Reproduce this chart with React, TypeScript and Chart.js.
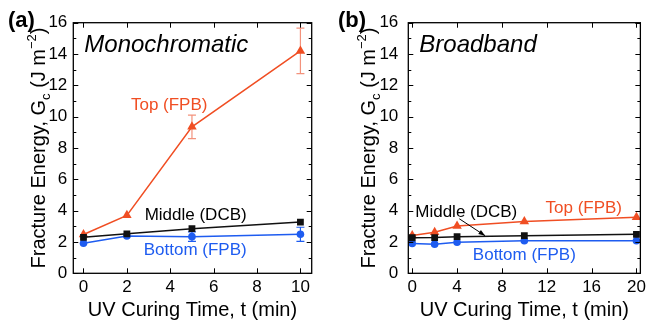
import React, { useEffect, useRef } from "react";
import { Chart, registerables } from "chart.js";
Chart.register(...registerables);

// ---------- data ----------
const timesA = [0, 2, 5, 10];
const topA = [2.48, 3.7, 9.35, 14.2];
const topErrA = [0, 0, 0.75, 1.45];
const middleA = [2.3, 2.52, 2.85, 3.27];
const bottomA = [1.92, 2.38, 2.34, 2.49];
const bottomErrA = [0, 0, 0.3, 0.45];

const timesB = [0, 2, 4, 10, 20];
const topB = [2.42, 2.62, 3.02, 3.3, 3.58];
const middleB = [2.27, 2.28, 2.34, 2.4, 2.49];
const bottomB = [1.91, 1.86, 1.98, 2.08, 2.08];

const yTicks = [0, 2, 4, 6, 8, 10, 12, 14, 16];
const yMinorTicks = [1, 3, 5, 7, 9, 11, 13, 15];
const xTicksA = [0, 2, 4, 6, 8, 10];
const xTicksB = [0, 4, 8, 12, 16, 20];

const labelsA = [
  { text: "Top (FPB)", x: 3.95, y: 10.75, color: "#f04e23" },
  { text: "Middle (DCB)", x: 5.17, y: 3.72, color: "#000000" },
  { text: "Bottom (FPB)", x: 5.15, y: 1.49, color: "#1e5cf0" },
];
const labelsB = [
  { text: "Middle (DCB)", x: 4.82, y: 3.91, color: "#000000" },
  { text: "Top (FPB)", x: 15.3, y: 4.17, color: "#f04e23" },
  { text: "Bottom (FPB)", x: 10.0, y: 1.17, color: "#1e5cf0" },
];
const arrowB = { x1: 4.2, y1: 3.48, x2: 6.5, y2: 2.4 };

const RED = "#f04e23";
const RED_ERR = "#f3927c";
const BLUE = "#1e5cf0";
const BLACK = "#111111";
const FONT = "'Liberation Sans', Arial, Helvetica, sans-serif";

function drawYTitle(ctx: CanvasRenderingContext2D, x: number, yc: number) {
  const big = `20px ${FONT}`;
  const small = `13px ${FONT}`;
  const segs = [
    { t: "Fracture Energy, G", f: big, dy: 0 },
    { t: "c", f: small, dy: 5 },
    { t: " (J m", f: big, dy: 0 },
    { t: "\u22122", f: small, dy: -9 },
    { t: ")", f: big, dy: 0 },
  ];
  ctx.save();
  let total = 0;
  for (const s of segs) {
    ctx.font = s.f;
    total += ctx.measureText(s.t).width;
  }
  ctx.translate(x, yc);
  ctx.rotate(-Math.PI / 2);
  ctx.fillStyle = "#000";
  ctx.textBaseline = "alphabetic";
  ctx.textAlign = "left";
  let cx = -total / 2;
  for (const s of segs) {
    ctx.font = s.f;
    ctx.fillText(s.t, cx, s.dy);
    cx += ctx.measureText(s.t).width;
  }
  ctx.restore();
}

function makeConfig(opts: {
  times: number[];
  top: number[];
  middle: number[];
  bottom: number[];
  topErr: number[] | null;
  bottomErr: number[] | null;
  xMin: number;
  xMax: number;
  xTicks: number[];
  yAxisWidth: number;
  tickPad: number;
  padRight: number;
  panel: string;
  title: string;
  labels: { text: string; x: number; y: number; color: string }[];
  arrow: { x1: number; y1: number; x2: number; y2: number } | null;
}) {
  const toPts = (arr: number[]) => opts.times.map((t, i) => ({ x: t, y: arr[i] }));
  const decor = {
    id: "decor",
    beforeDatasetsDraw(chart: any) {
      const ctx = chart.ctx;
      const xs = chart.scales.x;
      const ys = chart.scales.y;
      const drawErr = (arr: number[], err: number[] | null, color: string) => {
        if (!err) return;
        ctx.save();
        ctx.strokeStyle = color;
        ctx.lineWidth = 1.2;
        opts.times.forEach((t, i) => {
          if (!err[i]) return;
          const px = xs.getPixelForValue(t);
          const y1 = ys.getPixelForValue(arr[i] + err[i]);
          const y2 = ys.getPixelForValue(arr[i] - err[i]);
          ctx.beginPath();
          ctx.moveTo(px, y1);
          ctx.lineTo(px, y2);
          ctx.moveTo(px - 4, y1);
          ctx.lineTo(px + 4, y1);
          ctx.moveTo(px - 4, y2);
          ctx.lineTo(px + 4, y2);
          ctx.stroke();
        });
        ctx.restore();
      };
      drawErr(opts.top, opts.topErr, RED_ERR);
      drawErr(opts.bottom, opts.bottomErr, BLUE);
    },
    afterDraw(chart: any) {
      const ctx = chart.ctx;
      const a = chart.chartArea;
      const xs = chart.scales.x;
      const ys = chart.scales.y;
      ctx.save();
      // frame
      ctx.strokeStyle = "#000";
      ctx.lineWidth = 1.3;
      ctx.strokeRect(a.left, a.top, a.right - a.left, a.bottom - a.top);
      // inner ticks
      ctx.lineWidth = 1;
      ctx.beginPath();
      for (const v of opts.xTicks) {
        const px = Math.round(xs.getPixelForValue(v)) + 0.5;
        ctx.moveTo(px, a.bottom);
        ctx.lineTo(px, a.bottom - 5);
        ctx.moveTo(px, a.top);
        ctx.lineTo(px, a.top + 5);
      }
      for (const v of yTicks) {
        const py = Math.round(ys.getPixelForValue(v)) + 0.5;
        ctx.moveTo(a.left, py);
        ctx.lineTo(a.left + 5, py);
        ctx.moveTo(a.right, py);
        ctx.lineTo(a.right - 5, py);
      }
      for (const v of yMinorTicks) {
        const py = Math.round(ys.getPixelForValue(v)) + 0.5;
        ctx.moveTo(a.left, py);
        ctx.lineTo(a.left + 3, py);
        ctx.moveTo(a.right, py);
        ctx.lineTo(a.right - 3, py);
      }
      ctx.stroke();

      // panel label
      ctx.fillStyle = "#000";
      ctx.font = `bold 22px ${FONT}`;
      ctx.textAlign = "left";
      ctx.textBaseline = "alphabetic";
      ctx.fillText(opts.panel, 8, 27);

      // italic title
      ctx.font = `italic 24px ${FONT}`;
      ctx.fillText(opts.title, a.left + 11, 52);

      // series labels
      ctx.font = `17px ${FONT}`;
      ctx.textAlign = "center";
      ctx.textBaseline = "middle";
      for (const l of opts.labels) {
        ctx.fillStyle = l.color;
        ctx.fillText(l.text, xs.getPixelForValue(l.x), ys.getPixelForValue(l.y));
      }

      // arrow
      if (opts.arrow) {
        const x1 = xs.getPixelForValue(opts.arrow.x1);
        const y1 = ys.getPixelForValue(opts.arrow.y1);
        const x2 = xs.getPixelForValue(opts.arrow.x2);
        const y2 = ys.getPixelForValue(opts.arrow.y2);
        ctx.strokeStyle = "#000";
        ctx.fillStyle = "#000";
        ctx.lineWidth = 1;
        ctx.beginPath();
        ctx.moveTo(x1, y1);
        ctx.lineTo(x2, y2);
        ctx.stroke();
        const ang = Math.atan2(y2 - y1, x2 - x1);
        const L = 7;
        ctx.beginPath();
        ctx.moveTo(x2, y2);
        ctx.lineTo(x2 - L * Math.cos(ang - 0.35), y2 - L * Math.sin(ang - 0.35));
        ctx.lineTo(x2 - L * Math.cos(ang + 0.35), y2 - L * Math.sin(ang + 0.35));
        ctx.closePath();
        ctx.fill();
      }

      // y title
      drawYTitle(ctx, 45, (a.top + a.bottom) / 2);
      ctx.restore();
    },
  };

  return {
    type: "scatter" as const,
    data: {
      datasets: [
        {
          label: "Middle (DCB)",
          data: toPts(opts.middle),
          showLine: true,
          borderColor: BLACK,
          backgroundColor: BLACK,
          borderWidth: 1.5,
          pointStyle: "rect",
          pointRadius: 4.8,
          pointBorderWidth: 0,
        },
        {
          label: "Bottom (FPB)",
          data: toPts(opts.bottom),
          showLine: true,
          borderColor: BLUE,
          backgroundColor: BLUE,
          borderWidth: 1.5,
          pointStyle: "circle",
          pointRadius: 3.8,
          pointBorderWidth: 0,
        },
        {
          label: "Top (FPB)",
          data: toPts(opts.top),
          showLine: true,
          borderColor: RED,
          backgroundColor: RED,
          borderWidth: 1.5,
          pointStyle: "triangle",
          pointRadius: 5.5,
          pointBorderWidth: 0,
        },
      ],
    },
    options: {
      animation: false as const,
      responsive: false,
      devicePixelRatio: 1,
      layout: { padding: { top: 22.7, right: opts.padRight, left: 0, bottom: 0 } },
      plugins: { legend: { display: false }, tooltip: { enabled: false }, title: { display: false } },
      scales: {
        x: {
          type: "linear" as const,
          min: opts.xMin,
          max: opts.xMax,
          grid: { display: false, drawTicks: false },
          border: { display: false },
          afterBuildTicks: (s: any) => {
            s.ticks = opts.xTicks.map((v) => ({ value: v }));
          },
          afterFit: (s: any) => {
            s.height = 52.7;
          },
          ticks: {
            padding: 4,
            color: "#000",
            font: { family: FONT, size: 17 },
            maxRotation: 0,
            autoSkip: false,
            callback: (v: any) => String(v),
          },
          title: {
            display: true,
            text: "UV Curing Time, t (min)",
            color: "#000",
            font: { family: FONT, size: 20 },
            padding: { top: 0, bottom: 4 },
          },
        },
        y: {
          type: "linear" as const,
          min: 0,
          max: 16,
          grid: { display: false, drawTicks: false },
          border: { display: false },
          afterBuildTicks: (s: any) => {
            s.ticks = yTicks.map((v) => ({ value: v }));
          },
          afterFit: (s: any) => {
            s.width = opts.yAxisWidth;
          },
          ticks: {
            padding: opts.tickPad,
            color: "#000",
            font: { family: FONT, size: 17 },
            autoSkip: false,
            callback: (v: any) => String(v),
          },
        },
      },
    },
    plugins: [decor],
  };
}

export default function App() {
  const refA = useRef<HTMLCanvasElement>(null);
  const refB = useRef<HTMLCanvasElement>(null);
  useEffect(() => {
    const cA = new Chart(
      refA.current!,
      makeConfig({
        times: timesA,
        top: topA,
        middle: middleA,
        bottom: bottomA,
        topErr: topErrA,
        bottomErr: bottomErrA,
        xMin: -0.47,
        xMax: 10.52,
        xTicks: xTicksA,
        yAxisWidth: 73.3,
        tickPad: 6,
        padRight: 13.3,
        panel: "(a)",
        title: "Monochromatic",
        labels: labelsA,
        arrow: null,
      }) as any
    );
    const cB = new Chart(
      refB.current!,
      makeConfig({
        times: timesB,
        top: topB,
        middle: middleB,
        bottom: bottomB,
        topErr: null,
        bottomErr: null,
        xMin: -0.35,
        xMax: 20.35,
        xTicks: xTicksB,
        yAxisWidth: 78.3,
        tickPad: 10,
        padRight: 6,
        panel: "(b)",
        title: "Broadband",
        labels: labelsB,
        arrow: arrowB,
      }) as any
    );
    return () => {
      cA.destroy();
      cB.destroy();
    };
  }, []);
  return (
    <div style={{ position: "fixed", left: 0, top: 0, width: 650, height: 326, background: "#fff" }}>
      <canvas ref={refA} width={325} height={326} style={{ position: "absolute", left: 0, top: 0 }} />
      <canvas ref={refB} width={320} height={326} style={{ position: "absolute", left: 330, top: 0 }} />
    </div>
  );
}
